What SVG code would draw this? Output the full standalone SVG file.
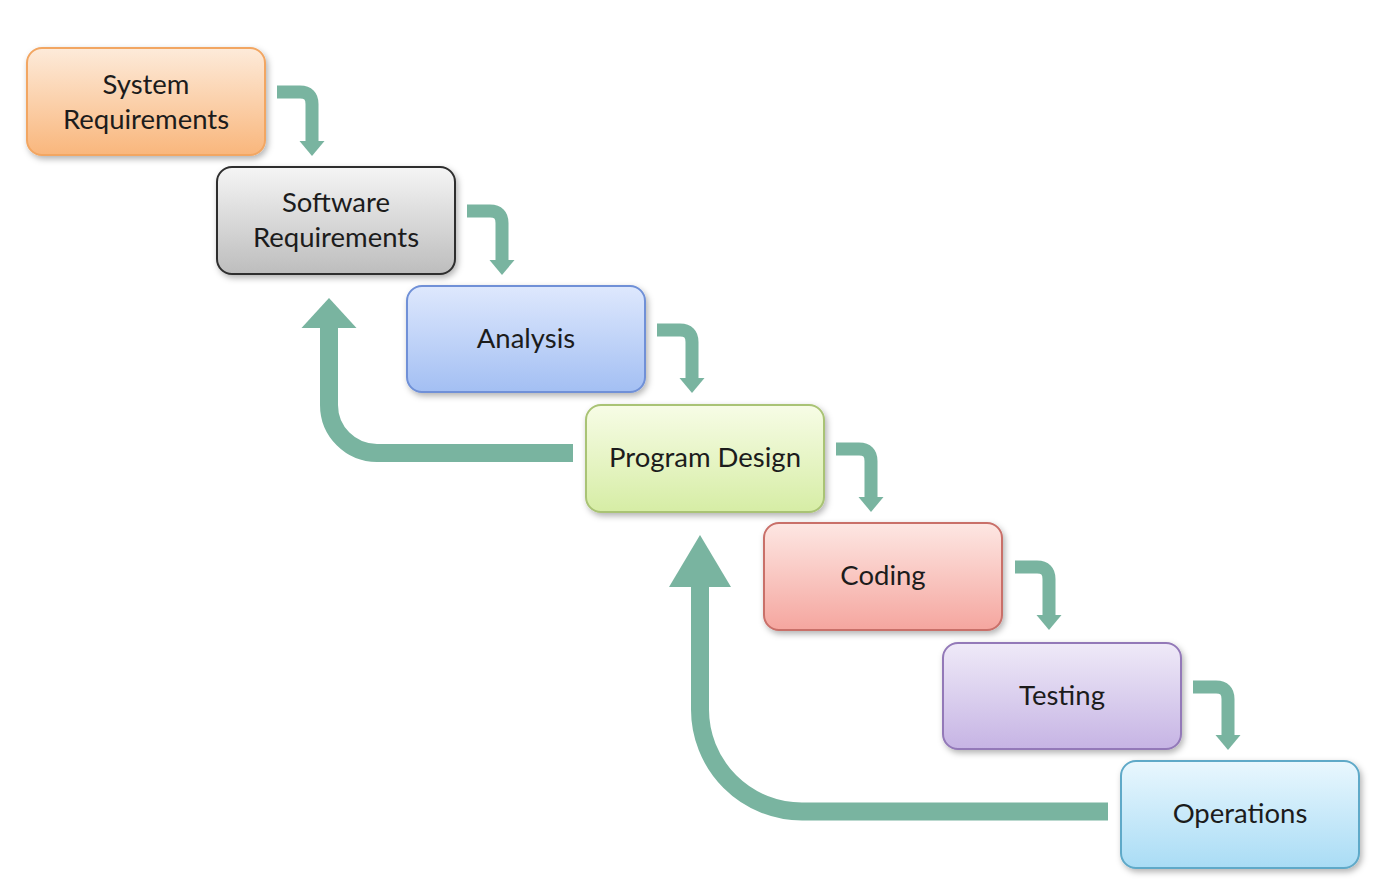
<svg xmlns="http://www.w3.org/2000/svg" width="1384" height="894" viewBox="0 0 1384 894">
  <style>
    .box { stroke-width: 2; filter: url(#shadow); }
    .label { font-family: Lato, "Open Sans", sans-serif; font-size: 27.5px; fill: #1c1c1c; text-anchor: middle; }
    .step { fill: none; stroke: #79B4A0; stroke-width: 13; marker-end: url(#headSmall); }
    .back { fill: none; stroke: #79B4A0; }
  </style>
  <defs>
    <filter id="shadow" x="-10%" y="-10%" width="125%" height="130%">
      <feDropShadow dx="2" dy="3" stdDeviation="3" flood-color="#000" flood-opacity="0.3"/>
    </filter>
    <linearGradient id="gOrange" x1="0" y1="0" x2="0" y2="1"><stop offset="0" stop-color="#FDEBDA"/><stop offset="1" stop-color="#F9B67C"/></linearGradient>
    <linearGradient id="gGray" x1="0" y1="0" x2="0" y2="1"><stop offset="0" stop-color="#F5F5F5"/><stop offset="1" stop-color="#BDBDBD"/></linearGradient>
    <linearGradient id="gBlue" x1="0" y1="0" x2="0" y2="1"><stop offset="0" stop-color="#DEE8FD"/><stop offset="1" stop-color="#A3BFF3"/></linearGradient>
    <linearGradient id="gGreen" x1="0" y1="0" x2="0" y2="1"><stop offset="0" stop-color="#F7FCE6"/><stop offset="1" stop-color="#D6EDA5"/></linearGradient>
    <linearGradient id="gRed" x1="0" y1="0" x2="0" y2="1"><stop offset="0" stop-color="#FDE7E3"/><stop offset="1" stop-color="#F5A69F"/></linearGradient>
    <linearGradient id="gPurple" x1="0" y1="0" x2="0" y2="1"><stop offset="0" stop-color="#EFEAF8"/><stop offset="1" stop-color="#C6B4E4"/></linearGradient>
    <linearGradient id="gCyan" x1="0" y1="0" x2="0" y2="1"><stop offset="0" stop-color="#E9F7FE"/><stop offset="1" stop-color="#A9DCF5"/></linearGradient>
    <marker id="headSmall" markerUnits="userSpaceOnUse" markerWidth="30" markerHeight="30" refX="0" refY="0" orient="auto" overflow="visible">
      <path d="M0,-12.5 L15,0 L0,12.5 Z" fill="#79B4A0"/>
    </marker>
    <marker id="headMid" markerUnits="userSpaceOnUse" markerWidth="60" markerHeight="60" refX="0" refY="0" orient="auto" overflow="visible">
      <path d="M0,-27.5 L30,0 L0,27.5 Z" fill="#79B4A0"/>
    </marker>
    <marker id="headBig" markerUnits="userSpaceOnUse" markerWidth="70" markerHeight="70" refX="0" refY="0" orient="auto" overflow="visible">
      <path d="M0,-31 L52,0 L0,31 Z" fill="#79B4A0"/>
    </marker>
  </defs>

  <rect width="1384" height="894" fill="#FFFFFF"/>

  <!-- connectors: short step arrows between stages, long feedback arrows -->
  <g id="connectors">
    <path class="step" d="M277,92 H300 Q312,92 312,104 V141"/>
    <path class="step" d="M467,211 H490 Q502,211 502,223 V260"/>
    <path class="step" d="M657,330 H680 Q692,330 692,342 V378"/>
    <path class="step" d="M836,449 H859 Q871,449 871,461 V497"/>
    <path class="step" d="M1015,567 H1037 Q1049,567 1049,579 V615"/>
    <path class="step" d="M1193,687 H1216 Q1228,687 1228,699 V735"/>
    <path class="back" stroke-width="18" marker-end="url(#headMid)" d="M573,453 H377 A48,48 0 0 1 329,405 V328"/>
    <path class="back" stroke-width="18" marker-end="url(#headBig)" d="M1108,811.5 H802 A102,102 0 0 1 700,709.5 V587"/>
  </g>

  <g id="system-requirements">
    <rect class="box" x="27" y="48" width="238" height="107" rx="15" fill="url(#gOrange)" stroke="#F2A662"/>
    <text class="label" x="146" y="94">System</text>
    <text class="label" x="146" y="129">Requirements</text>
  </g>
  <g id="software-requirements">
    <rect class="box" x="217" y="167" width="238" height="107" rx="15" fill="url(#gGray)" stroke="#2E2E2E" stroke-width="2.5"/>
    <text class="label" x="336" y="212">Software</text>
    <text class="label" x="336" y="247">Requirements</text>
  </g>
  <g id="analysis">
    <rect class="box" x="407" y="286" width="238" height="106" rx="15" fill="url(#gBlue)" stroke="#6F90D7"/>
    <text class="label" x="526" y="348">Analysis</text>
  </g>
  <g id="program-design">
    <rect class="box" x="586" y="405" width="238" height="107" rx="15" fill="url(#gGreen)" stroke="#A9C374"/>
    <text class="label" x="705" y="467">Program Design</text>
  </g>
  <g id="coding">
    <rect class="box" x="764" y="523" width="238" height="107" rx="15" fill="url(#gRed)" stroke="#C96F69"/>
    <text class="label" x="883" y="585">Coding</text>
  </g>
  <g id="testing">
    <rect class="box" x="943" y="643" width="238" height="106" rx="15" fill="url(#gPurple)" stroke="#9379B8"/>
    <text class="label" x="1062" y="705">Testing</text>
  </g>
  <g id="operations">
    <rect class="box" x="1121" y="761" width="238" height="107" rx="15" fill="url(#gCyan)" stroke="#5FA9C8"/>
    <text class="label" x="1240" y="823">Operations</text>
  </g>
</svg>
